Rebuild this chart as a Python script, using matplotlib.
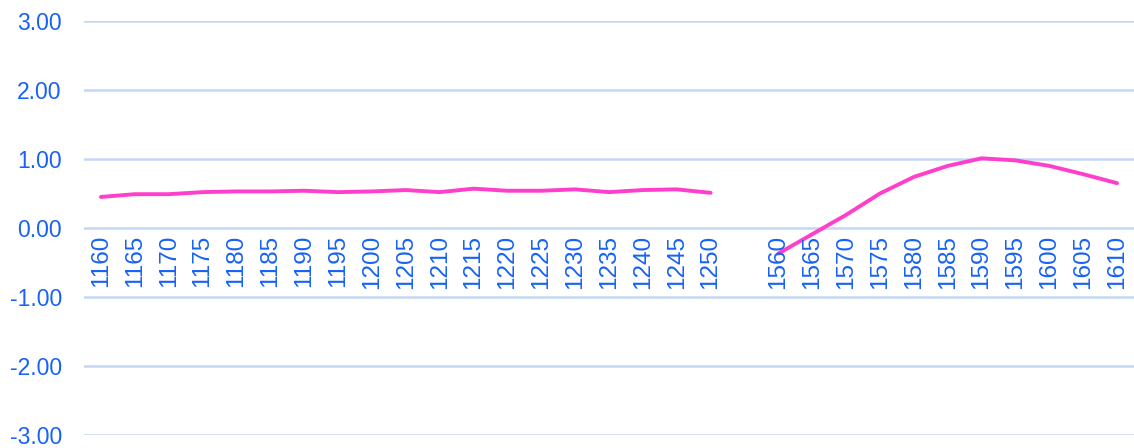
import matplotlib
matplotlib.use("Agg")
import matplotlib.pyplot as plt
import numpy as np

# two stretches of years, one empty category between them
years_a = ["1160", "1165", "1170", "1175", "1180", "1185", "1190", "1195", "1200", "1205",
           "1210", "1215", "1220", "1225", "1230", "1235", "1240", "1245", "1250"]
vals_a = [0.45, 0.49, 0.49, 0.52, 0.53, 0.53, 0.54, 0.52, 0.53, 0.55,
          0.52, 0.57, 0.54, 0.54, 0.56, 0.52, 0.55, 0.56, 0.51]

years_b = ["1560", "1565", "1570", "1575", "1580", "1585", "1590", "1595", "1600", "1605", "1610"]
vals_b = [-0.37, -0.09, 0.19, 0.50, 0.74, 0.90, 1.01, 0.98, 0.90, 0.78, 0.65]

y_ticks = [-3, -2, -1, 0, 1, 2, 3]

blue = "#1762f5"
pink = "#ff3fcb"
grid = "#c4d8f6"

labels = years_a + [""] + years_b
values = vals_a + [np.nan] + vals_b
xs = np.arange(len(labels))

plt.rcParams['font.family'] = ['Liberation Sans', 'DejaVu Sans']

fig = plt.figure(figsize=(11.34, 4.48), dpi=100)
ax = fig.add_axes([84 / 1134, 13 / 448, 1 - 84 / 1134, 414 / 448])

for y in y_ticks:
    ax.axhline(y, color=grid, lw=1.8, zorder=0)

ax.plot(xs, values, color=pink, lw=2.8, solid_capstyle='round', solid_joinstyle='round')

for x, lab in zip(xs, labels):
    if lab:
        ax.annotate(lab, (x, 0), xytext=(0, -5), textcoords='offset points',
                    rotation=90, ha='center', va='top', color=blue, fontsize=17.5)

ax.set_xlim(-0.5, len(labels) - 0.5)
ax.set_ylim(-3, 3)
ax.set_xticks([])
ax.set_yticks(y_ticks)
ax.set_yticklabels([f"{v:.2f}" for v in y_ticks])
ax.tick_params(axis='y', length=0, pad=16, labelcolor=blue, labelsize=16.5)
for s in ax.spines.values():
    s.set_visible(False)

fig.savefig("out.png", dpi=100)
